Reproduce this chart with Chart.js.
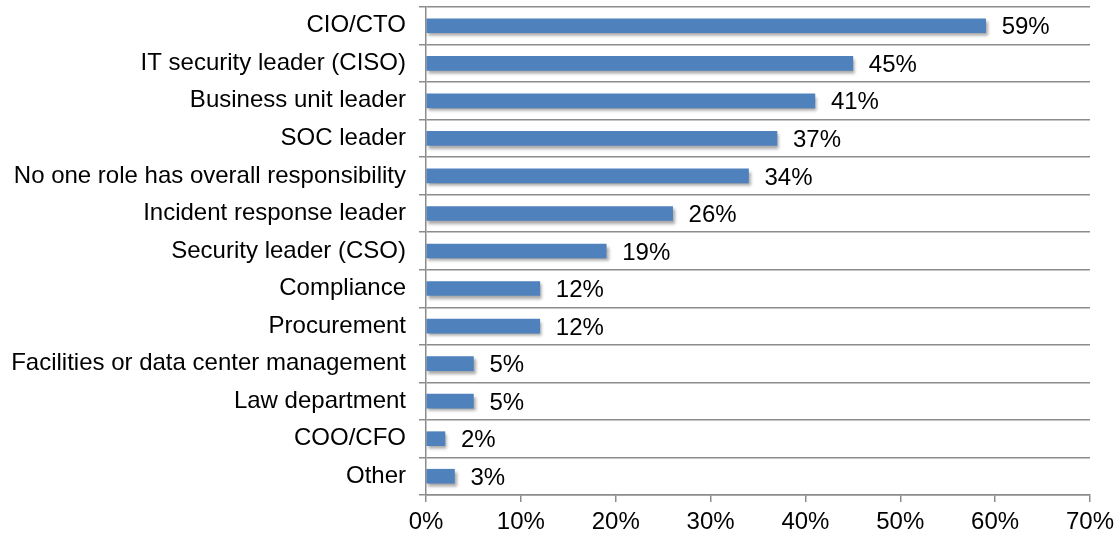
<!DOCTYPE html>
<html>
<head>
<meta charset="utf-8">
<script src="https://cdn.jsdelivr.net/npm/chart.js@4.4.1/dist/chart.umd.min.js"></script>
<style>
  html, body { margin: 0; padding: 0; background: #fff; }
  #wrap { width: 1120px; height: 537px; }
</style>
</head>
<body>
<div id="wrap"><canvas id="chart"></canvas></div>
<script>
// Who is responsible: roles and share of respondents (%)
const roles = [
    "CIO/CTO", "IT security leader (CISO)", "Business unit leader", "SOC leader",
    "No one role has overall responsibility", "Incident response leader",
    "Security leader (CSO)", "Compliance", "Procurement",
    "Facilities or data center management", "Law department", "COO/CFO", "Other"
];
const shares = [59, 45, 41, 37, 34, 26, 19, 12, 12, 5, 5, 2, 3];
const xTicks = [0, 10, 20, 30, 40, 50, 60, 70];

const fontFamily = "'Liberation Sans', Arial, Helvetica, sans-serif";
const fontSize = 24;
const lineGray = '#8c8c8c';

// drop shadow under the bars
const barShadow = {
    id: 'barShadow',
    beforeDatasetsDraw(chart) {
        const ctx = chart.ctx;
        ctx.save();
        ctx.shadowColor = 'rgba(0,0,0,0.35)';
        ctx.shadowOffsetX = 2;
        ctx.shadowOffsetY = 3;
        ctx.shadowBlur = 3;
    },
    afterDatasetsDraw(chart) {
        chart.ctx.restore();
    }
};

// value labels at the end of each bar
const valueLabels = {
    id: 'valueLabels',
    afterDatasetsDraw(chart) {
        const ctx = chart.ctx;
        const meta = chart.getDatasetMeta(0);
        ctx.save();
        ctx.font = fontSize + 'px ' + fontFamily;
        ctx.fillStyle = '#000';
        ctx.textAlign = 'left';
        ctx.textBaseline = 'middle';
        meta.data.forEach((bar, i) => {
            ctx.fillText(shares[i] + '%', bar.x + 16, bar.y + 2);
        });
        ctx.restore();
    }
};

new Chart(document.getElementById('chart'), {
    type: 'bar',
    data: {
        labels: roles,
        datasets: [{
            data: shares,
            backgroundColor: '#4f81bd',
            borderWidth: 0,
            barThickness: 14
        }]
    },
    options: {
        indexAxis: 'y',
        responsive: true,
        maintainAspectRatio: false,
        animation: false,
        layout: { padding: { top: 7, right: 29, left: 0, bottom: 0 } },
        plugins: {
            legend: { display: false },
            tooltip: { enabled: false }
        },
        scales: {
            y: {
                grid: {
                    offset: true,
                    color: lineGray,
                    lineWidth: 1.5,
                    tickLength: 7
                },
                border: { color: lineGray, width: 1.5 },
                ticks: {
                    color: '#000',
                    padding: 13,
                    font: { family: fontFamily, size: fontSize }
                },
                afterFit(scale) {
                    scale.width = 426;
                    scale.paddingTop = 0;
                    scale.paddingBottom = 0;
                }
            },
            x: {
                min: 0,
                max: 70,
                afterBuildTicks(scale) {
                    scale.ticks = xTicks.map(v => ({ value: v }));
                },
                grid: {
                    drawOnChartArea: false,
                    color: lineGray,
                    lineWidth: 1.5,
                    tickLength: 7
                },
                border: { color: lineGray, width: 1.5 },
                ticks: {
                    color: '#000',
                    padding: 6,
                    font: { family: fontFamily, size: fontSize },
                    callback: v => v + '%'
                },
                afterFit(scale) {
                    scale.height = 42;
                }
            }
        }
    },
    plugins: [barShadow, valueLabels]
});
</script>
</body>
</html>
